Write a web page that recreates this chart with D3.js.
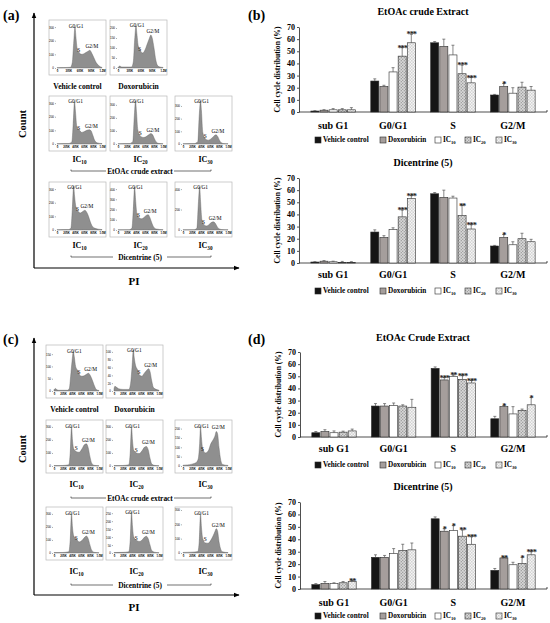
<!DOCTYPE html>
<html><head><meta charset="utf-8">
<script src="https://cdn.jsdelivr.net/npm/d3@7"></script>
<style>body{margin:0;background:#fff}svg{display:block;font-family:"Liberation Serif","DejaVu Serif",serif}</style>
</head><body><svg id="c" width="550" height="623"></svg>
<script>
// ---------- Bar chart data ----------
const categories = ["sub G1","G0/G1","S","G2/M"];
const seriesNames = ["Vehicle control","Doxorubicin","IC10","IC20","IC30"];
const barTicks = [0,10,20,30,40,50,60,70];

// (b) EtOAc crude Extract  [series][category]
const bEtoacMean = [[0.8,25.5,57,14],[1.5,21,54,21],[1.8,33,47,15.5],[1.8,46,31.5,20.5],[1.8,57,24,18]];
const bEtoacErr  = [[0.3,1.8,1,0.5],[0.4,1,6,2.5],[1,3.5,8,4.5],[1,7,7,4],[1.8,7,4.5,3]];
const bEtoacSig  = [["","","",""],["","","","*"],["","","",""],["","***","***",""],["","***","***",""]];
// (b) Dicentrine (5)
const bDicMean = [[0.8,25.5,57,14],[1.5,21,54,21],[1,27.5,53.5,15],[0.5,38,39,20],[0.3,53,28,17.5]];
const bDicErr  = [[0.3,1.8,1,0.5],[0.5,1.5,6,2.5],[0.5,1.5,1.5,2.5],[0.8,5.5,8.5,4.5],[0.8,2.5,3.5,2]];
const bDicSig  = [["","","",""],["","","","*"],["","","",""],["","***","**",""],["","***","***",""]];
// (d) EtOAc Crude Extract
const dEtoacMean = [[3.5,25.5,56.5,15],[4.5,25.5,47,25],[3.5,26,50,19],[4,25.5,47.5,22],[5,24.5,44.5,26.5]];
const dEtoacErr  = [[1,2,1.2,2],[1.5,2,2,1],[1.5,2,1,6],[0.8,1,3,1],[1.5,6.5,2,6]];
const dEtoacSig  = [["","","",""],["","","***","*"],["","","**",""],["","","***",""],["","","***","*"]];
// (d) Dicentrine (5)
const dDicMean = [[3.5,25.5,56.5,15],[4.5,25.5,46.5,25],[4.5,28.5,47,19.5],[5,31,42.5,20.5],[6,31.5,36,27.5]];
const dDicErr  = [[0.8,2,1.5,1.5],[1.5,1.5,2,0.5],[0.5,4,4,2],[1,5,5,5],[1,5.5,6,2.5]];
const dDicSig  = [["","","",""],["","","*","**"],["","","*",""],["","","**","*"],["**","","***","***"]];

// ---------- Histogram data: [fraction of PI axis, count] ----------
const xLabelsWide = ["0","300K","600K","900K","1.2M"];
const xLabelsStd  = ["0","200K","400K","600K","800K","1.0M"];

const hA_vehicle = [[0,2],[0.15,3],[0.3,5],[0.34,40],[0.37,180],[0.4,300],[0.42,230],[0.45,140],[0.5,110],[0.55,100],[0.6,105],[0.65,115],[0.7,125],[0.73,130],[0.77,110],[0.82,75],[0.87,40],[0.92,20],[0.97,8],[1,4]];
const hA_dox = [[0,3],[0.04,10],[0.08,5],[0.3,5],[0.34,30],[0.37,140],[0.4,210],[0.42,170],[0.45,110],[0.5,85],[0.55,75],[0.6,90],[0.65,120],[0.7,150],[0.73,165],[0.76,150],[0.8,100],[0.84,40],[0.88,12],[0.93,5],[1,3]];
const hA_et10 = [[0,2],[0.25,3],[0.33,15],[0.36,150],[0.39,310],[0.41,240],[0.44,130],[0.5,100],[0.55,85],[0.6,90],[0.66,100],[0.72,105],[0.76,95],[0.8,60],[0.84,25],[0.9,8],[1,3]];
const hA_et20 = [[0,2],[0.25,3],[0.33,20],[0.36,200],[0.39,330],[0.41,250],[0.44,110],[0.5,60],[0.56,50],[0.62,55],[0.68,70],[0.73,80],[0.77,70],[0.81,40],[0.85,15],[0.9,5],[1,2]];
const hA_et30 = [[0,2],[0.25,3],[0.33,20],[0.36,220],[0.39,340],[0.41,260],[0.44,90],[0.5,40],[0.56,30],[0.62,40],[0.68,60],[0.73,72],[0.77,60],[0.81,30],[0.85,10],[0.9,4],[1,2]];
const hA_di10 = [[0,2],[0.25,3],[0.31,15],[0.34,150],[0.37,320],[0.39,250],[0.42,170],[0.47,135],[0.52,125],[0.57,135],[0.62,145],[0.66,130],[0.7,100],[0.74,60],[0.78,30],[0.85,12],[0.92,6],[1,3]];
const hA_di20 = [[0,2],[0.25,3],[0.31,20],[0.34,200],[0.37,420],[0.39,300],[0.42,160],[0.47,120],[0.52,110],[0.57,120],[0.62,140],[0.67,150],[0.71,120],[0.75,70],[0.79,30],[0.85,10],[1,3]];
const hA_di30 = [[0,2],[0.25,3],[0.31,20],[0.34,250],[0.37,420],[0.39,280],[0.42,100],[0.47,50],[0.52,40],[0.57,50],[0.62,70],[0.67,80],[0.71,70],[0.75,40],[0.79,15],[0.85,5],[1,2]];

const hC_vehicle = [[0,5],[0.03,10],[0.06,6],[0.1,3],[0.3,3],[0.34,10],[0.37,60],[0.4,120],[0.43,160],[0.45,140],[0.48,100],[0.52,85],[0.57,65],[0.62,60],[0.67,62],[0.72,68],[0.77,72],[0.8,65],[0.85,45],[0.9,20],[0.94,6],[1,2]];
const hC_dox = [[0,5],[0.02,12],[0.05,10],[0.1,6],[0.2,4],[0.33,4],[0.37,20],[0.4,60],[0.43,105],[0.45,85],[0.48,65],[0.52,55],[0.57,40],[0.62,38],[0.67,45],[0.72,52],[0.77,57],[0.8,50],[0.84,25],[0.88,8],[1,2]];
const hC_et10 = [[0,3],[0.2,4],[0.33,10],[0.36,100],[0.39,300],[0.41,200],[0.44,130],[0.5,110],[0.56,105],[0.62,130],[0.68,165],[0.72,170],[0.76,140],[0.8,70],[0.84,20],[0.9,5],[1,2]];
const hC_et20 = [[0,3],[0.2,4],[0.33,10],[0.36,100],[0.39,300],[0.41,200],[0.44,120],[0.5,100],[0.56,95],[0.62,115],[0.68,145],[0.72,150],[0.76,125],[0.8,60],[0.84,15],[0.9,5],[1,2]];
const hC_et30 = [[0,4],[0.1,6],[0.2,10],[0.3,20],[0.34,40],[0.37,120],[0.39,210],[0.41,150],[0.44,90],[0.5,70],[0.56,80],[0.62,120],[0.67,140],[0.71,160],[0.74,185],[0.77,170],[0.8,100],[0.84,30],[0.88,8],[1,3]];
const hC_di10 = [[0,3],[0.2,4],[0.33,10],[0.36,100],[0.39,300],[0.41,200],[0.44,130],[0.5,105],[0.56,85],[0.62,95],[0.68,120],[0.72,130],[0.76,110],[0.8,60],[0.84,20],[0.9,5],[1,2]];
const hC_di20 = [[0,3],[0.2,4],[0.33,8],[0.36,80],[0.39,255],[0.41,170],[0.44,100],[0.5,80],[0.56,72],[0.62,80],[0.68,100],[0.72,105],[0.76,90],[0.8,50],[0.84,15],[0.9,5],[1,2]];
const hC_di30 = [[0,4],[0.2,6],[0.33,10],[0.36,80],[0.39,270],[0.41,180],[0.44,100],[0.5,70],[0.56,68],[0.62,90],[0.67,120],[0.71,150],[0.74,170],[0.77,150],[0.8,80],[0.84,25],[0.88,8],[1,3]];

// ---------- Drawing ----------
const svg = d3.select("#c");
const defs = svg.append("defs");
const hatch = defs.append("pattern").attr("id","hatch").attr("patternUnits","userSpaceOnUse").attr("width",3).attr("height",3);
hatch.append("rect").attr("width",3).attr("height",3).attr("fill","#c6c6c6");
hatch.append("path").attr("d","M0,3L3,0M-1,1L1,-1M2,4L4,2").attr("stroke","#8a8a8a").attr("stroke-width",0.6);
hatch.append("path").attr("d","M0,0L3,3").attr("stroke","#ececec").attr("stroke-width",0.5);
const check = defs.append("pattern").attr("id","check").attr("patternUnits","userSpaceOnUse").attr("width",3).attr("height",3);
check.append("rect").attr("width",3).attr("height",3).attr("fill","#f4f4f4");
check.append("rect").attr("width",1.5).attr("height",1.5).attr("fill","#d2d2d2");
check.append("rect").attr("x",1.5).attr("y",1.5).attr("width",1.5).attr("height",1.5).attr("fill","#d2d2d2");

const fills = ["#151515","#a59e9c","#ffffff","url(#hatch)","url(#check)"];

function icText(sel, label){
  const m = label.match(/^IC(\d+)$/);
  if(m){
    sel.append("tspan").text("IC");
    sel.append("tspan").attr("font-size","0.65em").attr("dy","0.3em").text(m[1]);
  } else sel.text(label);
}

function drawBars(cfg){
  const g = svg.append("g");
  const x = d3.scaleBand().domain(categories).range([cfg.x0,cfg.x1]).paddingInner(0.22).paddingOuter(0.18);
  const xs = d3.scaleBand().domain(d3.range(seriesNames.length)).range([0,x.bandwidth()]).padding(0.12);
  const y = d3.scaleLinear().domain([0,70]).range([cfg.yBot,cfg.yTop]);

  g.append("text").attr("x",423).attr("y",cfg.titleY).attr("text-anchor","middle").attr("dominant-baseline","middle")
    .attr("font-size",10).attr("font-weight","bold").text(cfg.title);

  const ya = g.append("g").attr("transform",`translate(${cfg.x0},0)`)
    .call(d3.axisLeft(y).tickValues(barTicks).tickSize(2).tickSizeOuter(0).tickPadding(2));
  ya.selectAll("text").attr("font-size",8).attr("font-weight","bold").attr("font-family","Liberation Serif");
  ya.selectAll("path,line").attr("stroke","#222").attr("stroke-width",0.8);

  g.append("text").attr("transform",`translate(${cfg.x0-21},${(cfg.yTop+cfg.yBot)/2}) rotate(-90)`)
    .attr("text-anchor","middle").attr("dominant-baseline","middle").attr("font-size",7.6).attr("font-weight","bold")
    .text("Cell cycle distribution (%)");

  const xa = g.append("g").attr("transform",`translate(0,${cfg.yBot})`)
    .call(d3.axisBottom(x).tickSize(0).tickSizeOuter(2).tickFormat(""));
  xa.selectAll("path").attr("stroke","#222").attr("stroke-width",0.8);
  xa.select("path").attr("d",`M${cfg.x0},0H${cfg.x1}V-2`);

  g.selectAll(".cat").data(categories).enter().append("text")
    .attr("x",d=>x(d)+x.bandwidth()/2).attr("y",cfg.labelY).attr("text-anchor","middle").attr("dominant-baseline","middle")
    .attr("font-size",10).attr("font-weight","bold").text(d=>d);

  seriesNames.forEach((s,si)=>{
    categories.forEach((c,ci)=>{
      const v = cfg.mean[si][ci], e = cfg.err[si][ci], st = cfg.sig[si][ci];
      const bx = x(c)+xs(si), bw = xs.bandwidth(), cx = bx+bw/2;
      g.append("rect").attr("x",bx).attr("y",y(v)).attr("width",bw).attr("height",y(0)-y(v))
        .attr("fill",fills[si]).attr("stroke","#2a2a2a").attr("stroke-width",0.6);
      g.append("line").attr("x1",cx).attr("x2",cx).attr("y1",y(v)).attr("y2",y(v+e)).attr("stroke","#555").attr("stroke-width",0.7);
      g.append("line").attr("x1",cx-1.5).attr("x2",cx+1.5).attr("y1",y(v+e)).attr("y2",y(v+e)).attr("stroke","#555").attr("stroke-width",0.7);
      if(st){
        g.append("text").attr("x",cx).attr("y",y(v+e)+3.2).attr("text-anchor","middle")
          .attr("font-size",8.5).attr("font-weight","bold").attr("letter-spacing",-1.1).attr("fill","#222").text(st);
      }
    });
  });

  const lx = [315,380,435,465,496];
  seriesNames.forEach((s,si)=>{
    g.append("rect").attr("x",lx[si]).attr("y",cfg.legendY-3).attr("width",6).attr("height",6)
      .attr("fill",fills[si]).attr("stroke","#2a2a2a").attr("stroke-width",0.6);
    const t = g.append("text").attr("x",lx[si]+8).attr("y",cfg.legendY+2.3).attr("font-size",7.2).attr("font-weight","bold");
    icText(t,s);
  });
}

drawBars({x0:299,x1:547,yTop:27,yBot:112,title:"EtOAc crude Extract",titleY:13,labelY:127,legendY:140,mean:bEtoacMean,err:bEtoacErr,sig:bEtoacSig});
drawBars({x0:299,x1:547,yTop:178,yBot:263,title:"Dicentrine (5)",titleY:164,labelY:276,legendY:291,mean:bDicMean,err:bDicErr,sig:bDicSig});
drawBars({x0:300,x1:547,yTop:352,yBot:437,title:"EtOAc Crude Extract",titleY:339,labelY:450,legendY:465,mean:dEtoacMean,err:dEtoacErr,sig:dEtoacSig});
drawBars({x0:300,x1:547,yTop:502,yBot:589,title:"Dicentrine (5)",titleY:488,labelY:604,legendY:616,mean:dDicMean,err:dDicErr,sig:dDicSig});

// ---------- Histograms ----------
function drawHist(bx,by,w,h,data,yMax,yTicks,xLabels){
  const g = svg.append("g");
  g.append("rect").attr("x",bx).attr("y",by).attr("width",w).attr("height",h).attr("fill","#fff").attr("stroke","#b8b8b8").attr("stroke-width",0.7);
  const px0 = bx+8, px1 = bx+w-4, py0 = by+h-7, py1 = by+3;
  const xs = d3.scaleLinear().domain([0,1]).range([px0,px1]);
  const ys = d3.scaleLinear().domain([0,yMax]).range([py0,py1]);
  const area = d3.area().x(d=>xs(d[0])).y0(ys(0)).y1(d=>ys(d[1])).curve(d3.curveMonotoneX);
  g.append("path").datum(data).attr("d",area).attr("fill","#8f8f8f").attr("stroke","#5e5e5e").attr("stroke-width",0.4);
  const ya = g.append("g").attr("transform",`translate(${px0-1},0)`).call(d3.axisLeft(ys).tickValues(yTicks).tickSize(1).tickSizeOuter(0).tickPadding(1));
  ya.select(".domain").remove();
  ya.selectAll("text").attr("font-size",3).attr("font-family","Liberation Sans").attr("fill","#000");
  ya.selectAll("line").attr("stroke","#333").attr("stroke-width",0.4);
  const fr = xLabels.map((d,i)=>i/(xLabels.length-1));
  const xa = g.append("g").attr("transform",`translate(0,${py0+1})`).call(d3.axisBottom(xs).tickValues(fr).tickSize(1).tickPadding(0.5).tickFormat((d,i)=>xLabels[i]));
  xa.select(".domain").remove();
  xa.selectAll("text").attr("font-size",2.8).attr("font-family","Liberation Sans").attr("font-weight","bold").attr("fill","#000");
  xa.selectAll("line").attr("stroke","#333").attr("stroke-width",0.4);
  const left = data.filter(d=>d[0]<0.5), right = data.filter(d=>d[0]>=0.55 && d[0]<=0.9);
  const g0 = left.reduce((a,b)=>b[1]>a[1]?b:a);
  const g2 = right.reduce((a,b)=>b[1]>a[1]?b:a);
  const mid = data.filter(d=>d[0]>g0[0]+0.05 && d[0]<g2[0]);
  const sP = mid.length? mid.reduce((a,b)=>b[1]<a[1]?b:a) : [ (g0[0]+g2[0])/2, 0];
  const lab = (xx,yy,t)=>g.append("text").attr("x",xx).attr("y",yy).attr("text-anchor","middle").attr("font-size",5.4).attr("fill","#000").text(t);
  lab(xs(g0[0])+1, Math.max(ys(g0[1])+1, py1+3.5), "G0/G1");
  lab(xs(sP[0])-3, ys(sP[1])-2, "S");
  lab(xs(g2[0])+2, ys(g2[1])-2, "G2/M");
}

function drawPanel(hists, colsX, rowsY, w, h, row1Dy, icDy, groupDy){
  const pos = [[0,0],[1,0],[0,1],[1,1],[2,1],[0,2],[1,2],[2,2]];
  hists.forEach((hs,i)=>{
    const [c,r] = pos[i];
    drawHist(colsX[c], rowsY[r], w, h, hs[0], hs[1], hs[2], hs[3]);
  });
  const L = (x,y,t,fs)=>{const tt=svg.append("text").attr("x",x).attr("y",y).attr("text-anchor","middle").attr("font-size",fs).attr("font-weight","bold"); icText(tt,t); return tt;};
  L(colsX[0]+w/2, rowsY[0]+h+row1Dy, "Vehicle control", 7.6);
  L(colsX[1]+w/2, rowsY[0]+h+row1Dy, "Doxorubicin", 7.6);
  ["IC10","IC20","IC30"].forEach((t,i)=>{
    L(colsX[i]+w/2+2, rowsY[1]+h+icDy, t, 8);
    L(colsX[i]+w/2+2, rowsY[2]+h+icDy, t, 8);
  });
  [["EtOAc crude extract",1],["Dicentrine (5)",2]].forEach(([t,r])=>{
    const yy = rowsY[r]+h+groupDy;
    L(140, yy+2.5, t, 7.4);
    const tw = t.length>15?34:27;
    svg.append("path").attr("d",`M71,${yy-1.5}V${yy}H${140-tw}`).attr("fill","none").attr("stroke","#333").attr("stroke-width",0.7);
    svg.append("path").attr("d",`M${140+tw},${yy}H211V${yy-1.5}`).attr("fill","none").attr("stroke","#333").attr("stroke-width",0.7);
  });
}

drawPanel([
  [hA_vehicle,330,[0,100,200,300],xLabelsWide],
  [hA_dox,225,[0,50,100,150,200],xLabelsWide],
  [hA_et10,330,[0,100,200,300],xLabelsStd],
  [hA_et20,345,[0,100,200,300],xLabelsStd],
  [hA_et30,355,[0,100,200,300],xLabelsStd],
  [hA_di10,330,[0,100,200,300],xLabelsStd],
  [hA_di20,440,[0,100,200,300,400],xLabelsStd],
  [hA_di30,440,[0,200,400],xLabelsStd]
],[49,110,175],[20,96,182],57,55,14,11,20);

drawPanel([
  [hC_vehicle,175,[0,50,100,150],xLabelsStd],
  [hC_dox,110,[0,20,40,60,80,100],xLabelsStd],
  [hC_et10,330,[0,100,200,300],xLabelsStd],
  [hC_et20,330,[0,100,200,300],xLabelsStd],
  [hC_et30,230,[0,50,100,150,200],xLabelsStd],
  [hC_di10,330,[0,100,200,300],xLabelsStd],
  [hC_di20,270,[0,50,100,150,200,250],xLabelsStd],
  [hC_di30,300,[0,100,200,300],xLabelsStd]
],[46,106,175],[345,420,507],57,53,14,14,25);

// ---------- Axes arrows, panel labels ----------
defs.append("marker").attr("id","arr").attr("viewBox","0 0 10 10").attr("refX",9).attr("refY",5)
  .attr("markerWidth",5).attr("markerHeight",5).attr("orient","auto")
  .append("path").attr("d","M0,1L10,5L0,9z").attr("fill","#000");
[[13,268,281,124],[338,595,607,449]].forEach(([top,base,piY,countY])=>{
  svg.append("path").attr("d",`M34,${base}V${top}`).attr("stroke","#000").attr("stroke-width",1.2).attr("marker-end","url(#arr)");
  svg.append("path").attr("d",`M34,${base}H239`).attr("stroke","#000").attr("stroke-width",1.2).attr("marker-end","url(#arr)");
  svg.append("text").attr("x",134).attr("y",piY+4).attr("text-anchor","middle").attr("font-size",11).attr("font-weight","bold").text("PI");
  svg.append("text").attr("transform",`translate(24,${countY}) rotate(-90)`).attr("text-anchor","middle").attr("dominant-baseline","middle")
    .attr("font-size",10.5).attr("font-weight","bold").text("Count");
});
[["(a)",3,20],["(b)",248,20],["(c)",3,344],["(d)",248,344]].forEach(([t,x,y])=>{
  svg.append("text").attr("x",x).attr("y",y).attr("font-size",14).attr("font-weight","bold").text(t);
});
</script></body></html>
